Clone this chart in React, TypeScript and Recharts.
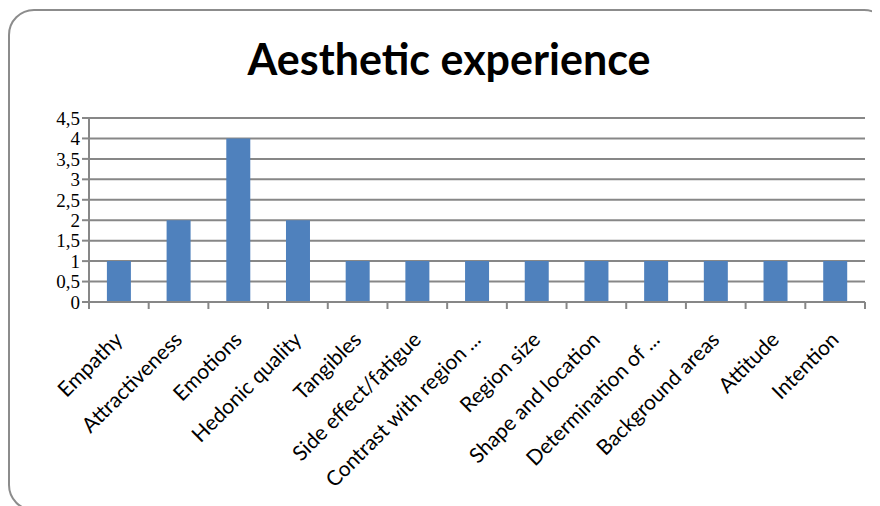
import { BarChart, Bar, XAxis, YAxis, CartesianGrid } from "recharts";

const categories = [
  "Empathy",
  "Attractiveness",
  "Emotions",
  "Hedonic quality",
  "Tangibles",
  "Side effect/fatigue",
  "Contrast with region ...",
  "Region size",
  "Shape and location",
  "Determination of ...",
  "Background areas",
  "Attitude",
  "Intention",
];
const values = [1, 2, 4, 2, 1, 1, 1, 1, 1, 1, 1, 1, 1];
const yTicks = [0, 0.5, 1, 1.5, 2, 2.5, 3, 3.5, 4, 4.5];

const data = categories.map((name, i) => ({ name, value: values[i] }));

const GRID = "#878787";

function CategoryTick(props: any) {
  const { x, y, payload, index, visibleTicksCount } = props;
  const half = payload && payload.offset ? payload.offset : 29.85;
  const last = index === (visibleTicksCount ?? categories.length) - 1;
  const ax = x + 5;
  const ay = y + 39;
  return (
    <g>
      <line x1={x - half} x2={x - half} y1={y} y2={y + 7} stroke={GRID} strokeWidth={2} />
      {last && <line x1={x + half} x2={x + half} y1={y} y2={y + 7} stroke={GRID} strokeWidth={2} />}
      <text
        x={ax}
        y={ay}
        transform={`rotate(-45, ${ax}, ${ay})`}
        textAnchor="end"
        fontFamily="Lato"
        fontSize={21}
        fill="#000"
      >
        {payload.value}
      </text>
    </g>
  );
}

export default function App() {
  return (
    <div style={{ position: "relative", width: 872, height: 498, overflow: "hidden" }}>
      <div
        style={{
          position: "absolute",
          left: 0,
          top: 1,
          width: 882,
          height: 502,
          border: "2px solid #8c8c8c",
          borderRadius: 26,
          boxSizing: "border-box",
        }}
      />
      <div style={{ position: "absolute", left: -8, top: -8, width: 880, height: 506 }}>
        <div
          style={{
            position: "absolute",
            left: 9,
            top: 34,
            width: 880,
            textAlign: "center",
            fontFamily: "Lato",
            fontWeight: 700,
            fontSize: 43,
            lineHeight: "50px",
            color: "#000",
          }}
        >
          Aesthetic experience
        </div>
        <BarChart
          width={880}
          height={506}
          data={data}
          margin={{ top: 118, right: 15, bottom: 0, left: 0 }}
          barCategoryGap="30%"
        >
          <CartesianGrid vertical={false} stroke={GRID} strokeWidth={2} />
          <XAxis
            dataKey="name"
            interval={0}
            height={204}
            tickSize={0}
            tickMargin={0}
            tickLine={false}
            axisLine={{ stroke: GRID, strokeWidth: 2 }}
            tick={<CategoryTick />}
          />
          <YAxis
            width={89}
            domain={[0, 4.5]}
            ticks={yTicks}
            interval={0}
            tickSize={7}
            tickMargin={2}
            axisLine={{ stroke: GRID, strokeWidth: 2 }}
            tickLine={{ stroke: GRID, strokeWidth: 2 }}
            tickFormatter={(v: number) => String(v).replace(".", ",")}
            tick={{ fontFamily: "Liberation Serif", fontSize: 19, fill: "#000" }}
          />
          <Bar dataKey="value" fill="#4f81bd" isAnimationActive={false} />
        </BarChart>
      </div>
    </div>
  );
}
